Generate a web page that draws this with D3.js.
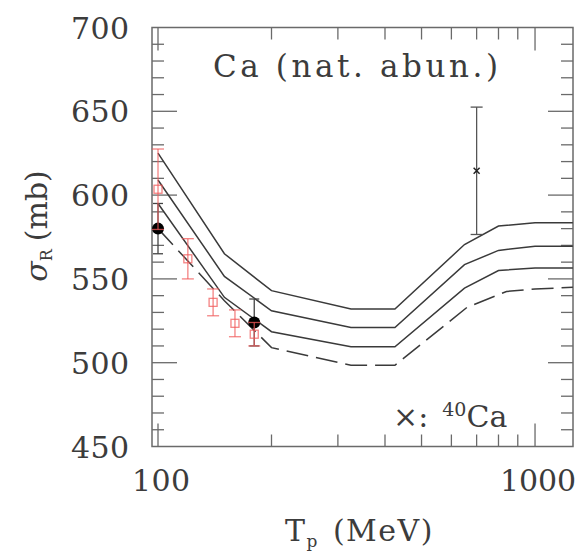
<!DOCTYPE html>
<html lang="en">
<head>
    <meta charset="UTF-8">
    <title>Ca reaction cross section</title>
    <style>
        body { margin: 0; background: #fff; }
        text { font-family: "DejaVu Serif", serif; fill: #3c3c3c; }
    </style>
</head>
<script src="https://cdn.jsdelivr.net/npm/d3@7"></script>
<body>
    <div id="chart"></div>
</body>
<script>
const width = 579
const height = 552

// model curves (sigma_R in mb vs T_p in MeV)
const curveEnergy = [100, 150, 200, 325, 425, 650, 800, 1000, 1260]
const upperBand = [625, 565, 543, 532, 532, 570.5, 581.5, 583.5, 583.5]
const centralCurve = [609, 551.5, 531, 521, 521, 558.5, 567, 569.5, 569.5]
const lowerBand = [595, 539, 518.5, 509.5, 509.5, 544.5, 555, 556.5, 556.5]
const dashedEnergy = [100, 150, 200, 325, 425, 660, 840, 1000, 1260]
const dashedCurve = [580, 537, 509, 498.5, 498.5, 533, 542.5, 544, 545]

// data points
const redEnergy = [100, 120, 140, 160, 180]
const redSigma = [603.5, 562, 536, 523.5, 517]
const redError = [24, 12, 8, 8, 7]
const blackEnergy = [100, 180]
const blackSigma = [580, 524]
const blackError = [15, 14]
const crossEnergy = [700]
const crossSigma = [614.5]
const crossError = [38]

const yTicks = [450, 500, 550, 600, 650, 700]
const yMinor = d3.range(450, 701, 10)
const xTicks = [100, 1000]
const xMinor = [200, 300, 400, 500, 600, 700, 800, 900]

const x = d3.scaleLog().domain([96.4, 1261]).range([152, 573])
const y = d3.scaleLinear().domain([450, 700]).range([446.5, 27.5])

const svg = d3.select("#chart").append("svg")
    .attr("width", width)
    .attr("height", height)

const frameColor = "#6a6a6a"
const g = svg.append("g")

// frame
g.append("rect")
    .attr("x", 152).attr("y", 27.5)
    .attr("width", 421).attr("height", 419)
    .attr("fill", "none")
    .attr("stroke", frameColor)
    .attr("stroke-width", 1.5)

// y ticks, both sides
yMinor.forEach(v => {
    const len = v % 50 === 0 ? 25 : 12
    if (v === 450 || v === 700) return
    g.append("line").attr("x1", 152).attr("x2", 152 + len)
        .attr("y1", y(v)).attr("y2", y(v))
        .attr("stroke", frameColor).attr("stroke-width", 1.3)
    g.append("line").attr("x1", 573).attr("x2", 573 - len)
        .attr("y1", y(v)).attr("y2", y(v))
        .attr("stroke", frameColor).attr("stroke-width", 1.3)
})
// x ticks, top and bottom
xTicks.concat(xMinor).forEach(v => {
    const len = xTicks.includes(v) ? 23 : 12
    g.append("line").attr("x1", x(v)).attr("x2", x(v))
        .attr("y1", 446.5).attr("y2", 446.5 - len)
        .attr("stroke", frameColor).attr("stroke-width", 1.3)
    g.append("line").attr("x1", x(v)).attr("x2", x(v))
        .attr("y1", 27.5).attr("y2", 27.5 + len)
        .attr("stroke", frameColor).attr("stroke-width", 1.3)
})

// tick labels
g.selectAll(".ylab").data(yTicks).enter().append("text")
    .attr("x", 129).attr("y", d => y(d) + 11)
    .attr("text-anchor", "end")
    .attr("font-size", 30)
    .attr("textLength", 58).attr("lengthAdjust", "spacing")
    .text(d => d)
g.selectAll(".xlab").data(xTicks).enter().append("text")
    .attr("x", d => x(d) + 3).attr("y", 491)
    .attr("text-anchor", "middle")
    .attr("font-size", 30)
    .attr("textLength", d => d === 1000 ? 76 : 58).attr("lengthAdjust", "spacing")
    .text(d => d)

// axis titles
const xt = g.append("text").attr("x", 285).attr("y", 541)
    .attr("font-size", 30).attr("letter-spacing", 1.5)
xt.append("tspan").text("T")
xt.append("tspan").attr("font-size", 17).attr("dy", 6).text("p")
xt.append("tspan").attr("dy", -6).attr("dx", 14).text("(MeV)")

const yt = g.append("text")
    .attr("transform", "translate(47,226) rotate(-90)")
    .attr("text-anchor", "middle").attr("font-size", 30)
yt.append("tspan").attr("font-style", "italic").text("σ")
yt.append("tspan").attr("font-size", 16).attr("dy", 5).text("R")
yt.append("tspan").attr("dy", -5).attr("dx", 8).text("(mb)")

// title and legend note
g.append("text").attr("x", 213).attr("y", 77)
    .attr("font-size", 31)
    .attr("textLength", 285).attr("lengthAdjust", "spacing")
    .text("Ca (nat. abun.)")
const note = g.append("text").attr("x", 393).attr("y", 427).attr("font-size", 30)
note.append("tspan").text("×:")
note.append("tspan").attr("font-size", 19).attr("dy", -11).attr("dx", 14).text("40")
note.append("tspan").attr("dy", 11).text("Ca")

// curves
const line = d3.line().x(d => x(d[0])).y(d => y(d[1]))
const curves = [
    {e: curveEnergy, s: upperBand, dash: null},
    {e: curveEnergy, s: centralCurve, dash: null},
    {e: curveEnergy, s: lowerBand, dash: null},
    {e: dashedEnergy, s: dashedCurve, dash: "22,8"}
]
const plot = g.append("g")
curves.forEach(c => {
    plot.append("path")
        .datum(c.e.map((e, i) => [e, c.s[i]]))
        .attr("fill", "none")
        .attr("stroke", "#3a3a3a")
        .attr("stroke-width", 1.5)
        .attr("stroke-dasharray", c.dash)
        .attr("d", line)
})

const errorBar = (sel, e, s, err, color, cap) => {
    sel.append("line").attr("x1", x(e)).attr("x2", x(e))
        .attr("y1", y(s - err)).attr("y2", y(s + err))
        .attr("stroke", color).attr("stroke-width", 1.3)
    ;[s - err, s + err].forEach(v => {
        sel.append("line").attr("x1", x(e) - cap).attr("x2", x(e) + cap)
            .attr("y1", y(v)).attr("y2", y(v))
            .attr("stroke", color).attr("stroke-width", 1.3)
    })
}

// 40Ca cross
crossEnergy.forEach((e, i) => {
    errorBar(plot, e, crossSigma[i], crossError[i], "#555", 6)
    plot.append("path")
        .attr("d", `M${x(e) - 3},${y(crossSigma[i]) - 3}L${x(e) + 3},${y(crossSigma[i]) + 3}M${x(e) - 3},${y(crossSigma[i]) + 3}L${x(e) + 3},${y(crossSigma[i]) - 3}`)
        .attr("stroke", "#222").attr("stroke-width", 1.5)
})

// black points
blackEnergy.forEach((e, i) => {
    errorBar(plot, e, blackSigma[i], blackError[i], "#444", 5)
    plot.append("circle")
        .attr("cx", x(e)).attr("cy", y(blackSigma[i]))
        .attr("r", 6).attr("fill", "#000")
})

// red points
const red = "rgba(240,90,90,0.75)"
redEnergy.forEach((e, i) => {
    errorBar(plot, e, redSigma[i], redError[i], red, 6)
    plot.append("rect")
        .attr("x", x(e) - 4).attr("y", y(redSigma[i]) - 4)
        .attr("width", 8).attr("height", 8)
        .attr("fill", "none").attr("stroke", red).attr("stroke-width", 1.3)
})
</script>
</html>
